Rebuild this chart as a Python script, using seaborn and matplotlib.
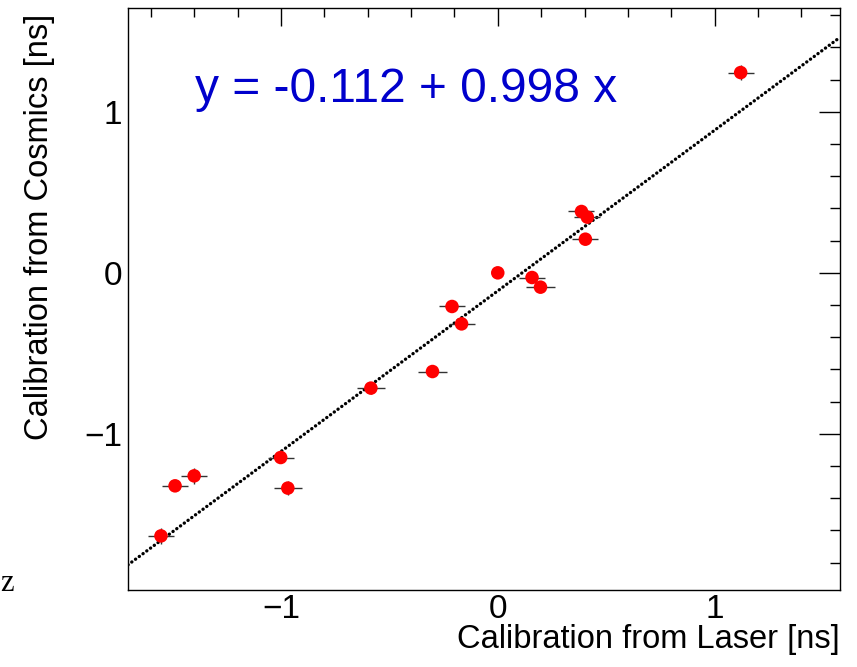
import numpy as np
import pandas as pd
import matplotlib
matplotlib.use("Agg")
import matplotlib.pyplot as plt
from matplotlib.ticker import MultipleLocator
import seaborn as sns

# Per-channel time offsets [ns]
laser = [1.120, 0.386, 0.413, 0.404, 0.0, 0.158, 0.197, -0.211, -0.167,
         -0.301, -0.585, -1.001, -0.968, -1.400, -1.488, -1.553]
cosmics = [1.244, 0.381, 0.346, 0.209, 0.0, -0.029, -0.089, -0.209, -0.317,
           -0.613, -0.716, -1.147, -1.337, -1.261, -1.323, -1.634]
laser_err = [0.06, 0.06, 0.06, 0.06, 0.0, 0.06, 0.065, 0.06, 0.06,
             0.065, 0.065, 0.06, 0.065, 0.06, 0.06, 0.06]
cosmics_err = [0.047, 0.03, 0.03, 0.03, 0.03, 0.03, 0.03, 0.03, 0.03,
               0.03, 0.035, 0.035, 0.045, 0.05, 0.03, 0.05]

# Linear fit result
fit_intercept = -0.112
fit_slope = 0.998

x_range = [-1.705, 1.578]
y_range = [-1.97, 1.645]

sns.set_theme(style="white")
plt.rcParams["font.family"] = ["Liberation Sans", "DejaVu Sans"]

fig = plt.figure(figsize=(8.57, 6.67), dpi=100)
ax = fig.add_axes([128 / 857, 1 - 590 / 667, 712 / 857, 582 / 667])

df = pd.DataFrame({"laser": laser, "cosmics": cosmics})

# Fit line across the full x range, drawn as a row of small dots
fit_x = np.array(x_range)
fit_df = pd.DataFrame({"x": fit_x, "y": fit_intercept + fit_slope * fit_x})
sns.lineplot(data=fit_df, x="x", y="y", ax=ax, color="black", lw=2.4,
             zorder=2)
fit_line = ax.lines[-1]
fit_line.set_linestyle((0, (0.05, 1.35)))
fit_line.set_dash_capstyle("round")

# Error bars
ax.errorbar(laser, cosmics, xerr=laser_err, yerr=cosmics_err, fmt="none",
            ecolor="#333333", elinewidth=1.0, capsize=0, zorder=3)

# Measurements
sns.scatterplot(data=df, x="laser", y="cosmics", ax=ax, color="#ff0000",
                s=95, edgecolor="none", zorder=4)

ax.set_xlim(*x_range)
ax.set_ylim(*y_range)

ax.xaxis.set_major_locator(MultipleLocator(1))
ax.xaxis.set_minor_locator(MultipleLocator(0.2))
ax.yaxis.set_major_locator(MultipleLocator(1))
ax.yaxis.set_minor_locator(MultipleLocator(0.2))

ax.tick_params(axis="both", which="both", direction="in", top=True,
               right=True, color="black", width=1.0, labelsize=24,
               labelcolor="black")
ax.tick_params(axis="x", which="major", length=13, pad=3)
ax.tick_params(axis="x", which="minor", length=6.5)
ax.tick_params(axis="y", which="major", length=15, pad=4)
ax.tick_params(axis="y", which="minor", length=7.5)

for side in ax.spines.values():
    side.set_visible(True)
    side.set_color("black")
    side.set_linewidth(1.0)

ax.set_xlabel("Calibration from Laser [ns]", fontsize=23.5, color="black")
ax.set_ylabel("Calibration from Cosmics [ns]", fontsize=23.5, color="black")
ax.xaxis.set_label_coords(1.0, -0.058)
ax.xaxis.label.set_horizontalalignment("right")
ax.yaxis.set_label_coords(-0.103, 0.99)
ax.yaxis.label.set_horizontalalignment("right")

ax.text(0.094, 0.8385, f"y = {fit_intercept:.3f} + {fit_slope:.3f} x",
        transform=ax.transAxes, fontsize=34.5, color="#0000cc",
        ha="left", va="baseline")

fig.text(0.0, 1 - 591 / 667, "z", fontsize=22, family="Liberation Serif",
         color="black", ha="left", va="baseline")

fig.savefig("out.png", dpi=100)
